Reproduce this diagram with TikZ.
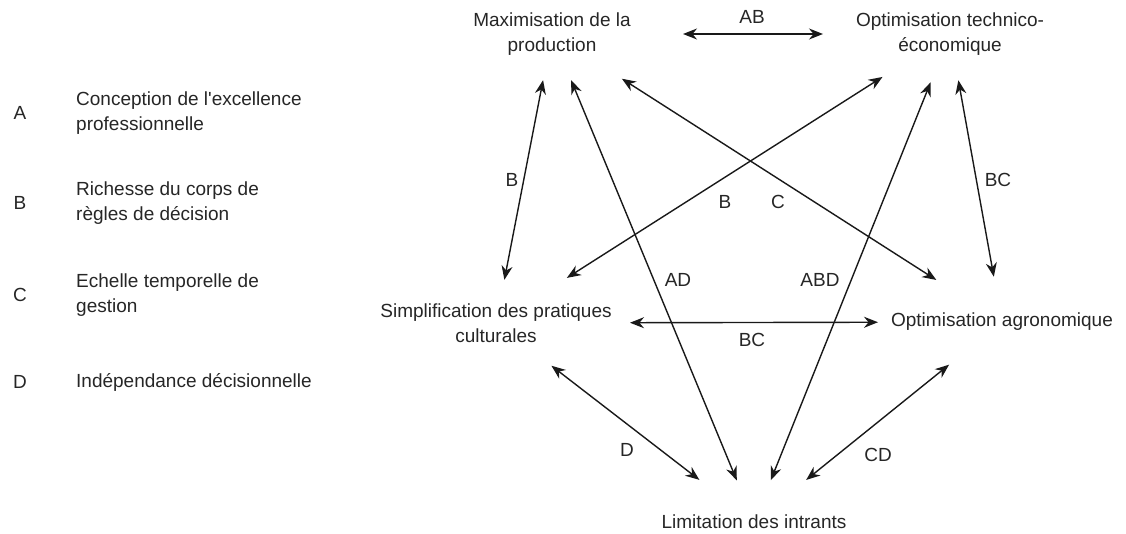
\documentclass[tikz,border=0pt]{standalone}
\usepackage{fontspec}
\setmainfont{Liberation Sans}
\usetikzlibrary{arrows.meta}

\begin{document}
\begin{tikzpicture}[x=1pt, y=-1pt,
  every node/.style={font=\fontsize{19}{25}\selectfont, inner sep=0pt, text=black!85},
  pole/.style={align=center},
  legend/.style={anchor=west, align=left},
  link/.style={line width=1.4pt, black!90, {Stealth[length=14pt,width=11pt]}-{Stealth[length=14pt,width=11pt]}}]
\useasboundingbox (0,0) rectangle (1126,534);

% Legend
\node (keyA) at (20,113) {A};
\node[legend] (txtA) at (76,113) {Conception de l\textquotesingle excellence\\professionnelle};
\node (keyB) at (20,203) {B};
\node[legend] (txtB) at (76,203) {Richesse du corps de\\règles de décision};
\node (keyC) at (20,295) {C};
\node[legend] (txtC) at (76,295) {Echelle temporelle de\\gestion};
\node (keyD) at (20,382) {D};
\node[legend] (txtD) at (76,382) {Indépendance décisionnelle};

% Poles
\node[pole] (max) at (552,34) {Maximisation de la\\production};
\node[pole] (tech) at (950,34) {Optimisation technico-\\économique};
\node[pole] (simp) at (496,323) {Simplification des pratiques\\culturales};
\node[pole] (agro) at (1002,322) {Optimisation agronomique};
\node[pole] (lim) at (754,522) {Limitation des intrants};

% Links between poles
\draw[link, shorten <=131pt, shorten >=127pt] (max.center) -- (tech.center);
\draw[link, shorten <=47pt, shorten >=44pt] (max.center) -- (simp.center);
\draw[link, shorten <=50pt, shorten >=45pt] (max.center) -- (lim.center);
\draw[link, shorten <=83pt, shorten >=78pt] (max.center) -- (agro.center);
\draw[link, shorten <=80pt, shorten >=84pt] (tech.center) -- (simp.center);
\draw[link, shorten <=52pt, shorten >=45pt] (tech.center) -- (lim.center);
\draw[link, shorten <=47pt, shorten >=46pt] (tech.center) -- (agro.center);
\draw[link, shorten <=134pt, shorten >=124pt] (simp.center) -- (agro.center);
\draw[link, shorten <=70pt, shorten >=69pt] (simp.center) -- (lim.center);
\draw[link, shorten <=68pt, shorten >=67pt] (agro.center) -- (lim.center);

% Labels of the links
\node (lAB) at (752,17) {AB};
\node (lB1) at (512,180) {B};
\node (lB2) at (725,202) {B};
\node (lC) at (778,202) {C};
\node (lAD) at (678,280) {AD};
\node (lABD) at (820,280) {ABD};
\node (lBC1) at (998,180) {BC};
\node (lBC2) at (752,340) {BC};
\node (lD) at (627,450) {D};
\node (lCD) at (878,455) {CD};
\end{tikzpicture}
\end{document}
